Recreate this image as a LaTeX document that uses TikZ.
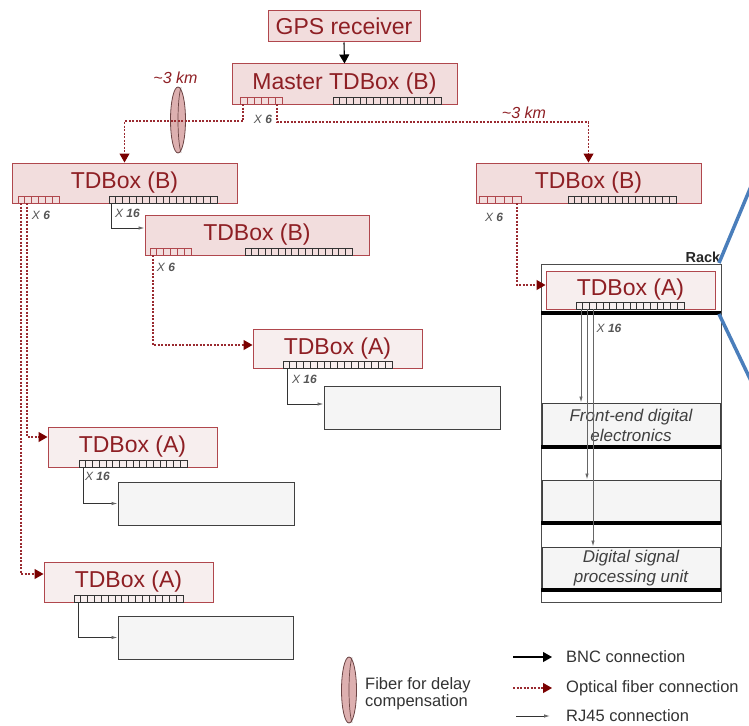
\documentclass[tikz,border=0pt]{standalone}
\usepackage{fontspec}
\setmainfont{Liberation Sans}
\usetikzlibrary{arrows.meta,calc}

\definecolor{bfill}{HTML}{F2DDDD}
\definecolor{afill}{HTML}{F7EEEE}
\definecolor{bdr}{HTML}{B0474D}
\definecolor{tred}{HTML}{8E1F24}
\definecolor{fib}{HTML}{9A2A30}
\definecolor{arr}{HTML}{7A0000}
\definecolor{gfill}{HTML}{F5F5F5}
\definecolor{lgray}{HTML}{555555}
\definecolor{disc}{HTML}{DDB0B0}
\definecolor{discline}{HTML}{6B4444}
\definecolor{blueln}{HTML}{4A7EBB}

\newcommand{\pstrip}[6]{%
  \draw[draw=#6, line width=0.8pt] (#1,#3) rectangle (#2,#4);
  \pgfmathtruncatemacro\pstripn{#5-1}%
  \foreach \i in {1,...,\pstripn}{%
    \draw[draw=#6, line width=0.7pt] ({#1+(#2-#1)*\i/#5},#3) -- ({#1+(#2-#1)*\i/#5},#4);
  }%
}
\newcommand{\fdisc}[2]{%
  \draw[discst] (#1,#2) ellipse (7.5 and 33);
  \draw[discline, line width=0.7pt] ({#1+3},{#2-32.5}) .. controls ({#1-1},{#2-20}) and ({#1-1},{#2+20}) .. ({#1+3},{#2+32.5});
}

\tikzset{
  boxB/.style={draw=bdr, fill=bfill, line width=1pt, text=tred,
    font=\fontsize{23}{26}\selectfont, inner sep=0pt},
  boxA/.style={boxB, fill=afill},
  grbox/.style={draw=black!75, fill=gfill, line width=1pt, inner sep=0pt,
    font=\fontsize{17}{20}\selectfont\itshape, text=black!75, align=center},
  fiber/.style={draw=fib, line width=1.1pt, dash pattern=on 2pt off 1.5pt,
    -{Triangle[length=9pt,width=10pt,fill=arr,color=arr]}},
  bnc/.style={draw=black, line width=1.1pt, -{Triangle[length=9pt,width=10pt]}},
  rj/.style={draw=black!80, line width=0.9pt, -{Latex[length=6pt,width=3.5pt,fill=black!45,color=black!60]}},
  xlab/.style={text=lgray, font=\fontsize{12}{14}\selectfont\itshape, inner sep=0pt},
  kmlab/.style={text=tred, font=\fontsize{16}{18}\selectfont\itshape, inner sep=0pt},
  legtext/.style={text=black!80, font=\fontsize{16.5}{17}\selectfont, inner sep=0pt, anchor=west, align=left},
  discst/.style={fill=disc, draw=discline, line width=0.8pt},
  thickbar/.style={line width=4pt, draw=black},
}

\begin{document}
\begin{tikzpicture}[x=1pt,y=-1pt]
\useasboundingbox (0,0) rectangle (749,725);
\clip (0,0) rectangle (749,725);

% fiber delay disc (top)
\fdisc{178}{120}

% boxes
\node[boxB, minimum width=152pt, minimum height=31pt] (gps) at (344,26.5) {GPS receiver};
\node[boxB, minimum width=225pt, minimum height=40pt] (master) at (344.5,84) {Master TDBox (B)};
\node[boxB, minimum width=225pt, minimum height=40pt] (b1) at (124.5,183) {TDBox (B)};
\node[boxB, minimum width=224pt, minimum height=40pt] (b2) at (257,235) {TDBox (B)};
\node[boxB, minimum width=225pt, minimum height=40pt] (br) at (588.5,183) {TDBox (B)};
\node[boxA, minimum width=169pt, minimum height=39pt] (am) at (337.5,348.5) {TDBox (A)};
\node[boxA, minimum width=169pt, minimum height=40pt] (a1) at (132.5,447) {TDBox (A)};
\node[boxA, minimum width=169pt, minimum height=40pt] (a2) at (128.5,582) {TDBox (A)};

\node[grbox, minimum width=176pt, minimum height=43pt] (g1) at (412,407.5) {};
\node[grbox, minimum width=176pt, minimum height=43pt] (g2) at (206,503.5) {};
\node[grbox, minimum width=175pt, minimum height=43pt] (g3) at (205.5,637.5) {};

% rack
\node[draw=black!70, line width=0.8pt, minimum width=180pt, minimum height=338pt, inner sep=0pt] (rack) at (631,433) {};
\node[anchor=south east, inner sep=1pt, font=\fontsize{14.5}{16}\selectfont\bfseries, text=black!85] (racklbl) at (rack.north east) {Rack};
\node[boxA, minimum width=169pt, minimum height=38pt] (ra) at (630.5,290) {TDBox (A)};
\node[grbox, minimum width=178pt, minimum height=44pt] (rfe) at (631,425) {Front-end digital\\electronics};
\node[grbox, minimum width=178pt, minimum height=43pt] (rmid) at (631,501.5) {};
\node[grbox, minimum width=178pt, minimum height=43pt] (rdsp) at (631,568.5) {Digital signal\\processing unit};
\draw[thickbar] (541,313) -- (721,313);
\draw[thickbar] (541,447) -- (721,447);
\draw[thickbar] (541,523) -- (721,523);
\draw[thickbar] (541,590) -- (721,590);

% port strips
\pstrip{240}{282}{97}{104}{6}{bdr}
\pstrip{333}{441}{97}{104}{16}{black!80}
\pstrip{18}{59}{196}{203}{6}{bdr}
\pstrip{109}{217}{196}{203}{16}{black!80}
\pstrip{150}{191}{248}{255}{6}{bdr}
\pstrip{245}{352}{248}{255}{16}{black!80}
\pstrip{479}{521}{196}{203}{5}{bdr}
\pstrip{568}{676}{196}{203}{16}{black!80}
\pstrip{283}{392}{361}{368}{16}{black!80}
\pstrip{79}{187}{460}{467}{16}{black!80}
\pstrip{74}{183}{595}{602}{16}{black!80}
\pstrip{576}{684}{302}{309}{16}{black!80}

% connector start points
\coordinate (mL) at (243,104);
\coordinate (mR) at (277,104);
\coordinate (b1a) at (21,203);
\coordinate (b1b) at (27,203);
\coordinate (b1r) at (111,203);
\coordinate (b2a) at (153,255);
\coordinate (bra) at (517,203);
\coordinate (amr) at (287,368);
\coordinate (a1r) at (83,467);
\coordinate (a2r) at (78,602);
\coordinate (ra1) at (581,309);
\coordinate (ra2) at (587,309);
\coordinate (ra3) at (593,309);

% connectors
\draw[bnc] (gps.south) -- (master.north);
\draw[fiber] (mL) -- ++(0,17) -| (b1.north);
\draw[fiber] (mR) -- ++(0,18) -| (br.north);
\draw[fiber] (b1b) |- ([yshift=10pt]a1.west);
\draw[fiber] (b1a) |- ([yshift=8pt]a2.west);
\draw[fiber] (b2a) |- ([yshift=3.5pt]am.west);
\draw[fiber] (bra) |- ([yshift=5pt]ra.west);
\draw[rj] (b1r) |- ([yshift=7pt]b2.west);
\draw[rj] (amr) |- ([yshift=3.5pt]g1.west);
\draw[rj] (a1r) |- (g2.west);
\draw[rj] (a2r) |- (g3.west);
\draw[rj, draw=black!60] (ra1) -- (ra1 |- rfe.north);
\draw[rj, draw=black!60] (ra2) -- (ra2 |- rmid.north);
\draw[rj, draw=black!60] (ra3) -- (ra3 |- rdsp.north);

% labels
\node[kmlab] (km1) at (175.5,78) {\textasciitilde3 km};
\node[kmlab] (km2) at (524,113) {\textasciitilde3 km};
\node[xlab] (x1) at (263,119) {X \textbf{6}};
\node[xlab] (x2) at (41,215) {X \textbf{6}};
\node[xlab] (x3) at (127.5,213) {X \textbf{16}};
\node[xlab] (x4) at (166,267) {X \textbf{6}};
\node[xlab] (x5) at (494,217) {X \textbf{6}};
\node[xlab] (x6) at (304.5,379) {X \textbf{16}};
\node[xlab] (x7) at (97.5,476) {X \textbf{16}};
\node[xlab] (x8) at (609,328) {X \textbf{16}};

% blue zoom lines
\draw[blueln, line width=3.5pt] (719,263) -- (752,184);
\draw[blueln, line width=3.5pt] (719,314) -- (752,383);

% legend
\fdisc{349}{690}
\node[legtext] (lfib) at (365,694) {Fiber for delay\\compensation};
\coordinate (lb1) at (513,657);
\coordinate (lb2) at (552,657);
\draw[bnc] (lb1) -- (lb2);
\node[legtext] (lbnc) at (566,657) {BNC connection};
\coordinate (lo1) at (513,688);
\coordinate (lo2) at (552,688);
\draw[fiber] (lo1) -- (lo2);
\node[legtext] (lopt) at (566,688) {Optical fiber connection};
\coordinate (lr1) at (516,716);
\coordinate (lr2) at (550,716);
\draw[rj] (lr1) -- (lr2);
\node[legtext] (lrj) at (566,716) {RJ45 connection};
\end{tikzpicture}
\end{document}
